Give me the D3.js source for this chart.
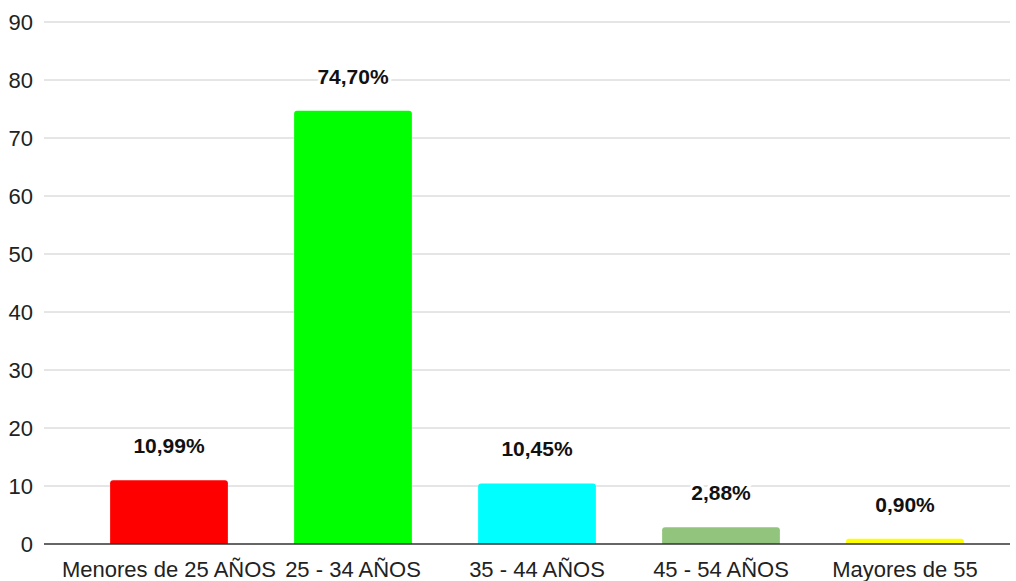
<!DOCTYPE html>
<html>
  <head>
    <meta charset="utf-8">
    <script src="https://d3js.org/d3.v7.min.js"></script>
    <style>
      body { margin: 0; background: #fff; }
      text { font-family: "Liberation Sans", Arial, sans-serif; }
    </style>
  </head>
  <body>
    <svg id="canvas" width="1016" height="581"></svg>
  </body>
  <script>
    const categories = ['Menores de 25 AÑOS', '25 - 34 AÑOS', '35 - 44 AÑOS', '45 - 54 AÑOS', 'Mayores de 55']
    const values = [10.99, 74.70, 10.45, 2.88, 0.90]
    const labels = ['10,99%', '74,70%', '10,45%', '2,88%', '0,90%']
    const colors = ['#ff0000', '#00ff00', '#00ffff', '#93c47d', '#ffff00']
    const yTicks = [0, 10, 20, 30, 40, 50, 60, 70, 80, 90]

    const svg = d3.select('#canvas')

    const x = d3.scaleBand().domain(categories).range([77, 997])
      .paddingInner(0.36).paddingOuter(0.18)
    const y = d3.scaleLinear().domain([0, 90]).range([544, 22])

    // gridlines
    svg.append('g').selectAll('line').data(yTicks.filter(t => t > 0)).join('line')
      .attr('x1', 44).attr('x2', 1010)
      .attr('y1', d => y(d)).attr('y2', d => y(d))
      .attr('stroke', '#cccccc').attr('stroke-width', 1)

    // y tick labels
    svg.append('g').selectAll('text').data(yTicks).join('text')
      .attr('x', 33).attr('y', d => y(d))
      .attr('dy', '0.36em')
      .attr('text-anchor', 'end')
      .attr('font-size', 22)
      .attr('fill', '#222')
      .text(d => d)

    // bars, top corners rounded
    const r = 3
    const barPath = (x0, w, yTop, yBot) => {
      const h = yBot - yTop
      const rr = Math.min(r, h / 2)
      return `M${x0},${yBot}V${yTop + rr}Q${x0},${yTop} ${x0 + rr},${yTop}` +
        `H${x0 + w - rr}Q${x0 + w},${yTop} ${x0 + w},${yTop + rr}V${yBot}Z`
    }
    svg.append('g').selectAll('path').data(values).join('path')
      .attr('d', (d, i) => barPath(x(categories[i]), x.bandwidth(), y(d), y(0)))
      .attr('fill', (d, i) => colors[i])

    // baseline
    svg.append('line')
      .attr('x1', 44).attr('x2', 1010)
      .attr('y1', y(0)).attr('y2', y(0))
      .attr('stroke', '#333').attr('stroke-width', 1.5)

    // value labels with white background
    const lab = svg.append('g').selectAll('g').data(values).join('g')
      .attr('transform', (d, i) => `translate(${x(categories[i]) + x.bandwidth() / 2},${y(d) - 27})`)
    lab.append('text')
      .attr('text-anchor', 'middle')
      .attr('font-family', 'Roboto, sans-serif')
      .attr('font-size', 21).attr('font-weight', 'bold')
      .attr('fill', '#111')
      .attr('stroke', '#fff').attr('stroke-width', 6).attr('paint-order', 'stroke')
      .text((d, i) => labels[i])

    // category labels
    svg.append('g').selectAll('text').data(categories).join('text')
      .attr('x', d => x(d) + x.bandwidth() / 2)
      .attr('y', 577)
      .attr('text-anchor', 'middle')
      .attr('font-size', 22)
      .attr('fill', '#222')
      .text(d => d)
  </script>
</html>
